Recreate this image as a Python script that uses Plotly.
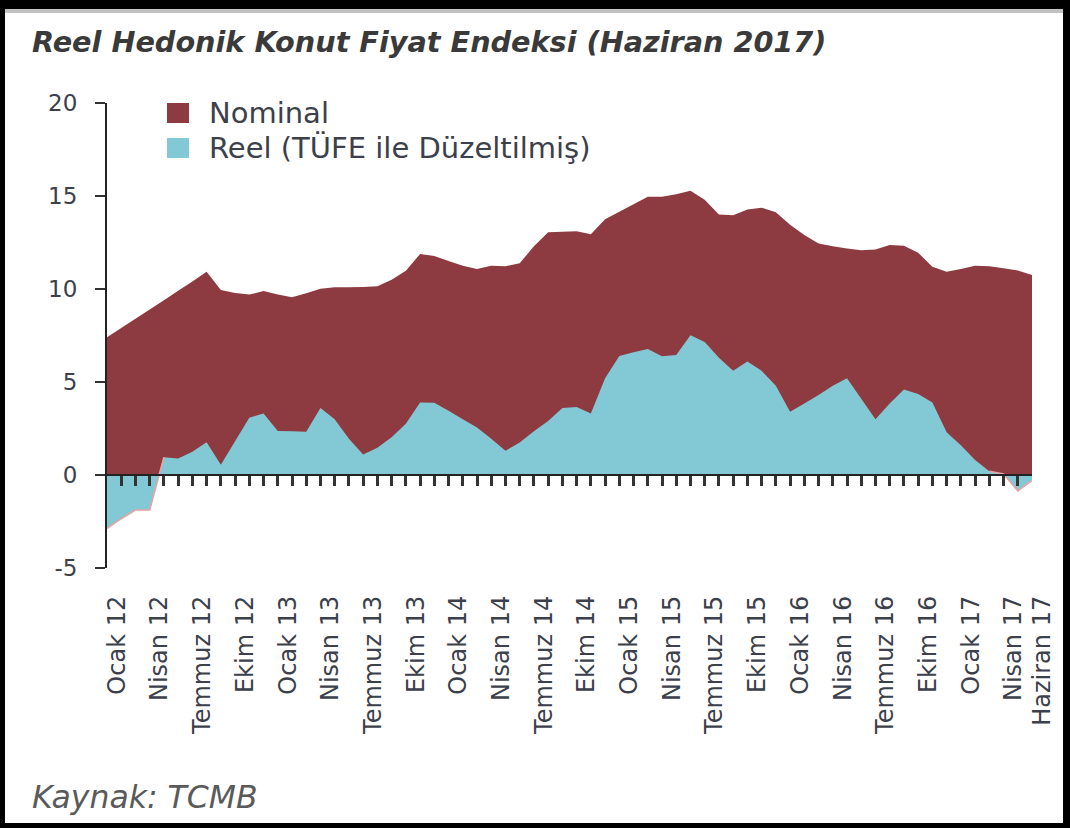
import plotly.graph_objects as go

months = list(range(66))  # Ocak 12 ... Haziran 17

nominal = [7.40, 7.90, 8.40, 8.90, 9.40, 9.90, 10.40, 10.93, 9.95, 9.78,
           9.70, 9.89, 9.70, 9.55, 9.77, 10.02, 10.09, 10.10, 10.11, 10.15,
           10.50, 10.98, 11.88, 11.77, 11.50, 11.25, 11.08, 11.25, 11.22, 11.38,
           12.30, 13.05, 13.08, 13.10, 12.95, 13.75, 14.15, 14.55, 14.96, 14.96,
           15.10, 15.28, 14.80, 14.00, 13.97, 14.28, 14.37, 14.12, 13.45, 12.90,
           12.45, 12.30, 12.18, 12.08, 12.13, 12.37, 12.33, 11.95, 11.20, 10.93,
           11.08, 11.25, 11.22, 11.12, 11.00, 10.75]

reel = [-2.87, -2.35, -1.88, -1.88, 0.95, 0.89, 1.25, 1.76, 0.55, 1.81,
        3.08, 3.31, 2.37, 2.35, 2.33, 3.60, 3.00, 1.95, 1.10, 1.46,
        2.03, 2.75, 3.90, 3.89, 3.45, 3.00, 2.55, 1.95, 1.30, 1.75,
        2.35, 2.90, 3.60, 3.65, 3.30, 5.20, 6.40, 6.60, 6.78, 6.38,
        6.45, 7.52, 7.15, 6.30, 5.60, 6.10, 5.60, 4.80, 3.40, 3.85,
        4.30, 4.80, 5.20, 4.10, 3.00, 3.85, 4.60, 4.35, 3.90, 2.30,
        1.60, 0.80, 0.20, 0.05, -0.85, -0.30]

label_pos = [0, 3, 6, 9, 12, 15, 18, 21, 24, 27, 30, 33, 36, 39, 42, 45,
             48, 51, 54, 57, 60, 63, 65]
label_text = ["Ocak 12", "Nisan 12", "Temmuz 12", "Ekim 12",
              "Ocak 13", "Nisan 13", "Temmuz 13", "Ekim 13",
              "Ocak 14", "Nisan 14", "Temmuz 14", "Ekim 14",
              "Ocak 15", "Nisan 15", "Temmuz 15", "Ekim 15",
              "Ocak 16", "Nisan 16", "Temmuz 16", "Ekim 16",
              "Ocak 17", "Nisan 17", "Haziran 17"]
y_ticks = [-5, 0, 5, 10, 15, 20]
y_tick_text = ["-5", "0", "5", "10", "15", "20"]
series_names = ["Nominal", "Reel (TÜFE ile Düzeltilmiş)"]

NOM_C = "#8E3A41"
REEL_C = "#82C9D5"
PINK = "#E8A3A3"
TXT = "#3C404B"
FONT = "DejaVu Sans"

# plot area in pixels
L, R, T, B = 107, 1032, 103, 568
W, H = 1070, 828


def px(x):
    return (x - L) / (R - L)


def py(y):
    return (B - y) / (B - T)


fig = go.Figure()

fig.add_trace(go.Scatter(x=months, y=nominal, fill="tozeroy", mode="none",
                         fillcolor=NOM_C, name=series_names[0],
                         showlegend=False, hoverinfo="skip"))
fig.add_trace(go.Scatter(x=months, y=reel, fill="tozeroy", mode="none",
                         fillcolor=REEL_C, name=series_names[1],
                         showlegend=False, hoverinfo="skip"))

# pink outline where the real series goes below zero
neg_mask = [v if (i <= 4 or i >= 62) else None for i, v in enumerate(reel)]
fig.add_trace(go.Scatter(x=months, y=neg_mask, mode="lines",
                         line=dict(color=PINK, width=1.6), showlegend=False,
                         hoverinfo="skip", connectgaps=False))

# invisible trace to carry the label axis
fig.add_trace(go.Scatter(x=[0, 65], y=[0, 0], xaxis="x2", mode="lines",
                         line=dict(width=0), showlegend=False, hoverinfo="skip"))

fig.update_layout(
    width=W, height=H,
    margin=dict(l=L, r=W - R, t=T, b=H - B),
    paper_bgcolor="white", plot_bgcolor="white",
    font=dict(family=FONT, color=TXT),
    showlegend=False,
    xaxis=dict(range=[0, 65], anchor="free", position=0.2,
               showline=True, linecolor="#222", linewidth=2,
               ticks="outside", tickvals=list(range(1, 65)), ticklen=10,
               tickwidth=2.5, tickcolor="#333", showticklabels=False,
               showgrid=False, zeroline=False),
    xaxis2=dict(range=[0, 65], overlaying="x", anchor="y", side="bottom",
                tickvals=label_pos, ticktext=label_text, tickangle=-90,
                ticks="", showline=False, showgrid=False, zeroline=False,
                tickfont=dict(family=FONT, size=24, color=TXT),
                ticklabelstandoff=22, ticklabelshift=10),
    yaxis=dict(range=[-5, 20], tickvals=y_ticks, ticktext=y_tick_text,
               showline=True,
               linecolor="#222", linewidth=2, ticks="outside", ticklen=10,
               tickwidth=2, tickcolor="#333", showgrid=False, zeroline=False,
               tickfont=dict(family=FONT, size=23, color=TXT),
               ticklabelstandoff=13),
)

# legend (squares + labels)
leg_colors = [NOM_C, REEL_C]
leg_y = [113, 148]
for name, col, yc in zip(series_names, leg_colors, leg_y):
    fig.add_shape(type="rect", xref="paper", yref="paper",
                  x0=px(167), x1=px(189), y0=py(yc - 10), y1=py(yc + 10),
                  fillcolor=col, line=dict(width=0))
    fig.add_annotation(text=name, xref="paper", yref="paper",
                       x=px(207), y=py(yc), xanchor="left", yanchor="middle",
                       showarrow=False,
                       font=dict(family=FONT, size=29, color=TXT))

fig.add_annotation(text="<b><i>Reel Hedonik Konut Fiyat Endeksi (Haziran 2017)</i></b>",
                   xref="paper", yref="paper", x=px(30), y=py(42),
                   xanchor="left", yanchor="middle", showarrow=False,
                   font=dict(family=FONT, size=28.7, color="#3A3A3A"))
fig.add_annotation(text="<i>Kaynak: TCMB</i>",
                   xref="paper", yref="paper", x=px(30), y=py(797),
                   xanchor="left", yanchor="middle", showarrow=False,
                   font=dict(family=FONT, size=31.5, color="#5A5A5A"))

# black frame around the picture (drawn in pixel coordinates of the page)
fig.add_shape(type="rect", xref="paper", yref="paper",
              x0=px(5), x1=px(W - 7), y0=py(9), y1=py(13),
              fillcolor="#9a9a9a", line=dict(width=0), layer="above", opacity=0.6)
frame = [(0, 0, W, 9), (0, 0, 5, H), (W - 7, 0, W, H), (0, H - 5, W, H)]
for x0, y0, x1, y1 in frame:
    fig.add_shape(type="path", xref="paper", yref="paper",
                  path=("M {a},{b} L {c},{b} L {c},{d} L {a},{d} Z"
                        .format(a=px(x0), b=py(y0), c=px(x1), d=py(y1))),
                  fillcolor="#000000", line=dict(width=0), layer="above")

fig.write_html("out.html",
               config={"displayModeBar": False},
               post_script="document.body.style.margin='0px';"
                           "document.body.style.overflow='hidden';"
                           "window.scrollTo(0,0);")
